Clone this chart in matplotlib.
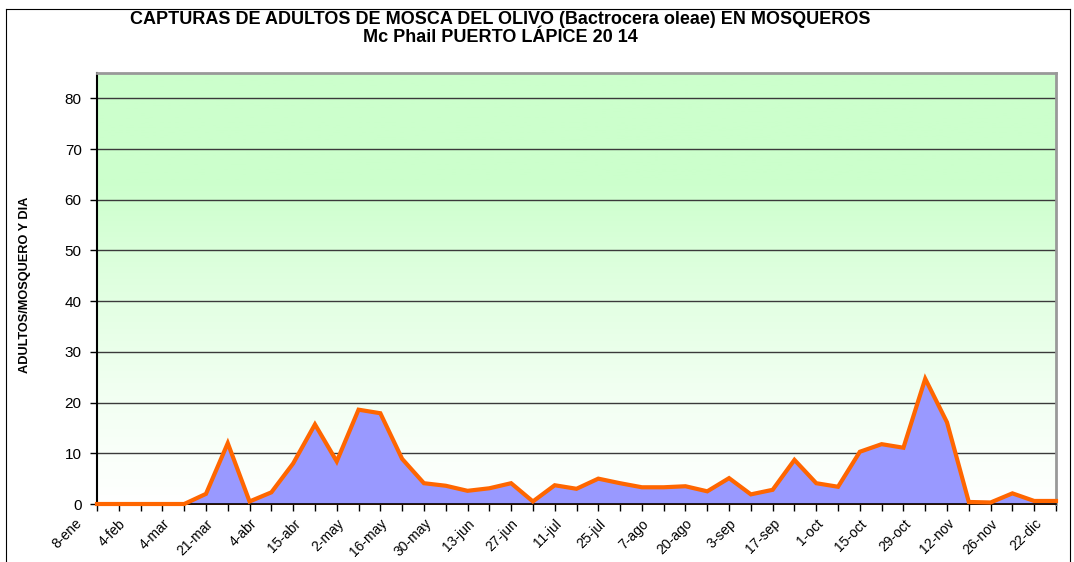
import numpy as np
import matplotlib
matplotlib.use("Agg")
import matplotlib.pyplot as plt
from matplotlib.colors import LinearSegmentedColormap
from matplotlib.lines import Line2D

plt.rcParams['font.family'] = ['Liberation Sans', 'DejaVu Sans']

# ---- data ----
date_labels = ["8-ene", "4-feb", "4-mar", "21-mar", "4-abr", "15-abr", "2-may",
               "16-may", "30-may", "13-jun", "27-jun", "11-jul", "25-jul", "7-ago",
               "20-ago", "3-sep", "17-sep", "1-oct", "15-oct", "29-oct", "12-nov",
               "26-nov", "22-dic"]
captures = [0, 0, 0, 0, 0, 2.0, 12.0, 0.5, 2.3, 8.0,
            15.7, 8.4, 18.6, 17.9, 8.9, 4.1, 3.6, 2.6, 3.1, 4.1,
            0.5, 3.7, 3.0, 5.0, 4.1, 3.3, 3.3, 3.5, 2.5, 5.1,
            1.9, 2.8, 8.7, 4.1, 3.4, 10.3, 11.8, 11.1, 24.7, 16.1,
            0.4, 0.3, 2.1, 0.6, 0.6]
y_ticks = [0, 10, 20, 30, 40, 50, 60, 70, 80]

title_1 = "CAPTURAS DE ADULTOS DE MOSCA DEL OLIVO (Bactrocera oleae) EN MOSQUEROS"
title_2 = "Mc Phail PUERTO LÁPICE 20 14"
ylabel = "ADULTOS/MOSQUERO Y DIA"

W, H = 1074, 562
fig = plt.figure(figsize=(W / 100, H / 100), dpi=100)
fig.patch.set_facecolor('white')

# figure border (chart area frame)
for (xs, ys) in [([6, 1070], [9, 9]), ([6, 6], [9, 570]), ([1070, 1070], [9, 570])]:
    fig.add_artist(Line2D([x / W for x in xs], [1 - y / H for y in ys],
                          color='black', lw=0.8, transform=fig.transFigure))

left, right, top, bottom = 97, 1056, 73, 504
ax = fig.add_axes([left / W, 1 - bottom / H, (right - left) / W, (bottom - top) / H])

x = np.arange(len(captures))
ax.set_xlim(0, len(captures) - 1)
ax.set_ylim(0, 85)

# gradient background
cmap = LinearSegmentedColormap.from_list(
    'bg', [(0.0, '#FFFFFF'), (0.25, '#F2FFF2'), (0.55, '#DDFFDD'), (0.75, '#CCFFCC'), (1.0, '#CCFFCC')])
grad = np.linspace(0, 1, 256).reshape(-1, 1)
ax.imshow(grad, cmap=cmap, aspect='auto', origin='lower',
          extent=[0, 1, 0, 1], transform=ax.transAxes, zorder=0)

# grid
for yv in y_ticks[1:]:
    ax.axhline(yv, color='#3a3a3a', lw=1.0, zorder=1)

ax.fill_between(x, captures, 0, facecolor='#9999FF', edgecolor='#FF6600', lw=1, zorder=2)
ax.plot(x, captures, color='#FF6600', lw=3.0, zorder=3, solid_joinstyle='miter', clip_on=False)

# ticks
ax.set_yticks(y_ticks)
ax.set_yticklabels([str(v) for v in y_ticks], fontsize=11)
ax.set_xticks(x)
labels = [''] * len(captures)
for i, lab in enumerate(date_labels[1:]):
    labels[1 + 2 * i] = lab
ax.set_xticklabels(labels, rotation=45, ha='right', va='top', rotation_mode='anchor', fontsize=10)
ax.tick_params(axis='both', direction='out', length=5, width=1, color='black')
ax.tick_params(axis='x', pad=4)
ax.tick_params(axis='y', pad=6)
# first label lies one category left of the axis start
ax.annotate(date_labels[0], xy=(-1, 0), xycoords='data', xytext=(0, -9),
            textcoords='offset points', rotation=45, ha='right', va='top',
            rotation_mode='anchor', fontsize=10, annotation_clip=False)

for s in ['top', 'right']:
    ax.spines[s].set_color('#999999')
    ax.spines[s].set_linewidth(2)
ax.spines['left'].set_color('black')
ax.spines['left'].set_linewidth(1.5)
ax.spines['bottom'].set_color('black')
ax.spines['bottom'].set_linewidth(1.2)

fig.text(500 / W, 1 - 20 / H, title_1, ha='center', va='center', fontsize=13,
         fontweight='bold')
fig.text(500 / W, 1 - 38 / H, title_2, ha='center', va='center', fontsize=13,
         fontweight='bold')
fig.text(25 / W, 1 - 285 / H, ylabel, rotation=90, ha='center', va='center',
         fontsize=9.2, fontweight='bold')

fig.savefig('out.png', dpi=100)
